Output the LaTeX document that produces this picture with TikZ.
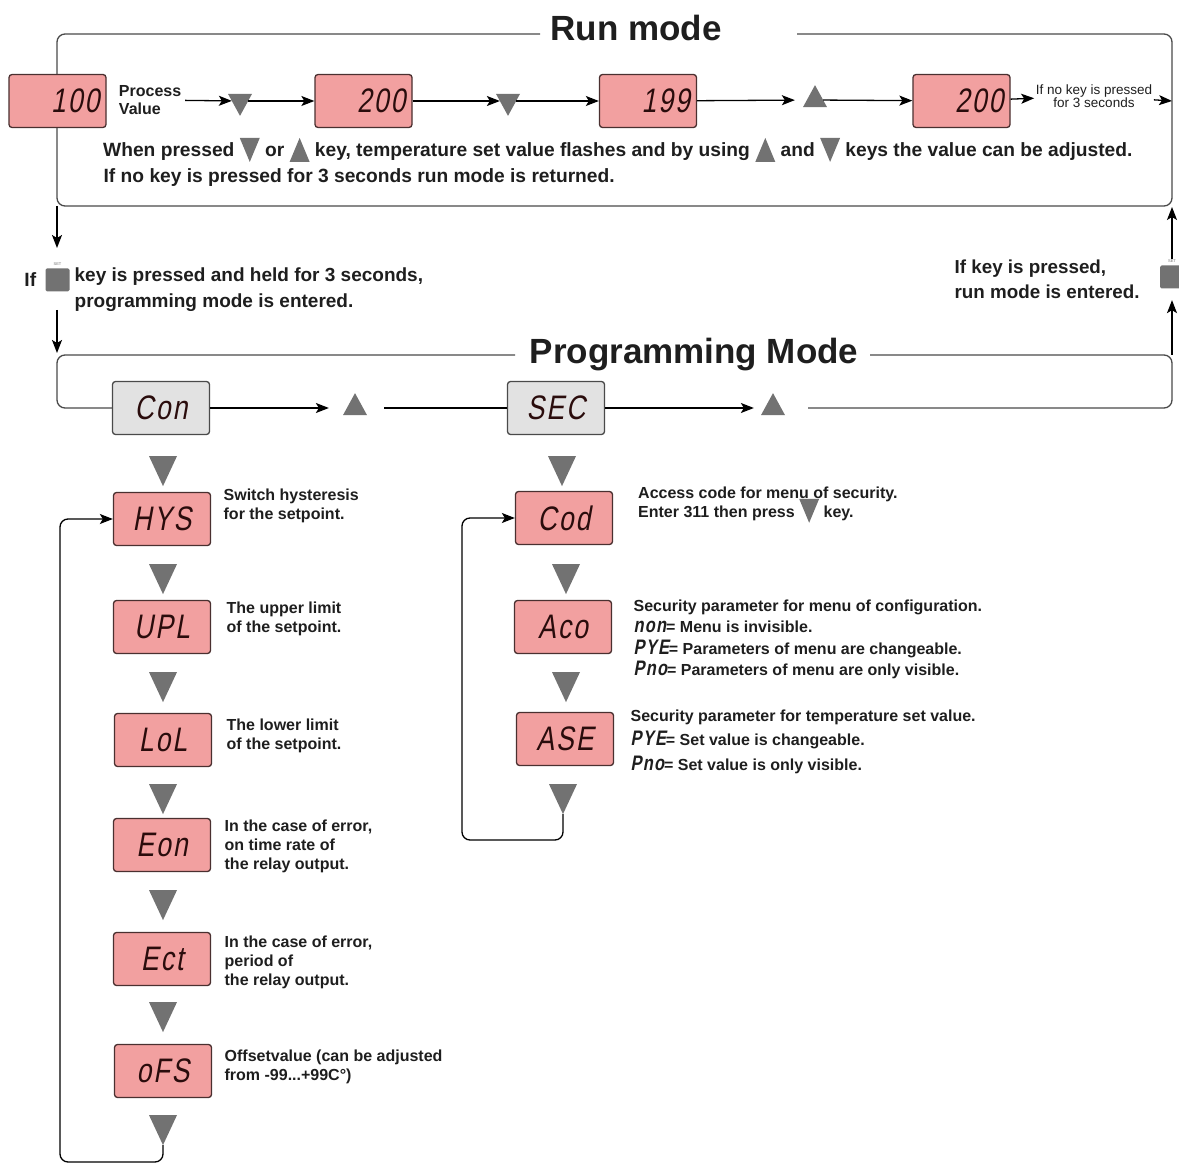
\documentclass[tikz,border=0pt]{standalone}
\usepackage{fontspec}
\setmainfont{Liberation Sans}
\newfontfamily\lcdfont[FakeStretch=0.78,FakeSlant=0.18,LetterSpace=6]{Liberation Sans}
\usetikzlibrary{positioning, shapes.geometric, arrows.meta}

\definecolor{lcdpink}{HTML}{F2A0A0}
\definecolor{lcdgray}{HTML}{E2E2E2}
\definecolor{keygray}{HTML}{727272}
\definecolor{lcdink}{HTML}{2A0C0C}
\definecolor{framegray}{HTML}{4A4A4A}
\definecolor{textblack}{HTML}{1E1E1E}

% Tasten im Fliesstext
\newcommand{\keydn}{\smash{\tikz[baseline=0pt]\fill[keygray] (-10pt,19pt) -- (10pt,19pt) -- (0pt,-5pt) -- cycle;}}
\newcommand{\keyup}{\smash{\tikz[baseline=0pt]\fill[keygray] (-10pt,-5pt) -- (10pt,-5pt) -- (0pt,19pt) -- cycle;}}
\newcommand{\lcd}[1]{{\lcdfont\fontsize{21}{16}\selectfont #1}}

\begin{document}
\begin{tikzpicture}[x=1pt, y=-1pt, line width=1.3pt, >={Stealth[length=13pt,width=10pt,inset=3pt]},
    font=\fontsize{16}{19}\bfseries\selectfont, text=textblack,
    display/.style={draw=lcdink!85, fill=lcdpink, rounded corners=3pt, minimum width=97pt,
        minimum height=53pt, inner sep=0pt, font=\lcdfont\fontsize{34}{34}\selectfont, text=lcdink},
    rundisp/.style={display, text width=84pt, align=right},
    menudisp/.style={display, fill=lcdgray, draw=framegray},
    downkey/.style={fill=keygray, isosceles triangle, isosceles triangle stretches, rotate=-90,
        minimum width=28pt, minimum height=30pt, inner sep=0pt, outer sep=0pt},
    smalldown/.style={downkey, minimum width=24pt, minimum height=22pt},
    smallup/.style={fill=keygray, isosceles triangle, isosceles triangle stretches, rotate=90,
        minimum width=24pt, minimum height=22pt, inner sep=0pt, outer sep=0pt},
    upkey/.style={smallup},
    setkey/.style={fill=keygray, rounded corners=1.5pt, minimum width=24pt, minimum height=23pt, inner sep=0pt},
    setlabel/.style={font=\fontsize{4}{4}\selectfont, inner sep=0.5pt, text=keygray},
    frame/.style={draw=framegray, rounded corners=8pt},
    title/.style={font=\fontsize{35}{35}\bfseries\selectfont, anchor=base},
    desc/.style={anchor=north west, align=left, inner sep=0pt},
    note/.style={font=\fontsize{19.2}{26}\bfseries\selectfont, align=left, inner sep=0pt}]
    \useasboundingbox (0,0) rectangle (1179,1166);

    % Run mode
    \node[title] (runtitle) at (636,41) {Run mode};
    \draw[frame] (540,34) -| (57,206) -| (1172,34) -- (797,34);

    \node[rundisp] (pv) at (57.5,101) {100};
    \node[anchor=west, align=left, font=\fontsize{16}{18}\bfseries\selectfont] (pvlabel) at (115,100) {Process\\Value};
    \node[smalldown] (rk1) at (240,101) {};
    \node[rundisp] (sv1) at (363.5,101) {200};
    \node[smalldown] (rk2) at (508,101) {};
    \node[rundisp] (sv2) at (648,101) {199};
    \node[smallup] (rk3) at (815,100) {};
    \node[rundisp] (sv3) at (961.5,101) {200};
    \node[align=center, inner sep=1pt, font=\fontsize{13.5}{12}\selectfont] (nokey) at (1094,96) {If no key is pressed\\for 3 seconds};
    \coordinate (runexit) at (1172,101);

    \draw[->] (pvlabel) -- (rk1);
    \draw[->] (rk1) -- (sv1);
    \draw[->] (sv1) -- (rk2);
    \draw[->] (rk2) -- (sv2);
    \draw[->, shorten >=12pt] (sv2) -- (rk3);
    \draw[->] (rk3) -- (sv3);
    \draw[->] (sv3) -- (nokey);
    \draw[->] (nokey) -- (runexit);

    \node[note, anchor=west] (runnote1) at (103,152) {When pressed \keydn{} or \keyup{} key, temperature set value flashes and by using \keyup{} and \keydn{} keys the value can be adjusted.};
    \node[note, anchor=west] (runnote2) at (103,178) {If no key is pressed for 3 seconds run mode is returned.};

    % Wechsel in den Programmiermodus
    \coordinate (runbl) at (57,206);
    \coordinate (runhold) at (57,248);
    \draw[->] (runbl) -- (runhold);
    \node[setkey] (setkey1) at (57.5,280) {};
    \node[setlabel, above=1pt of setkey1] (setlab1) {SET};
    \node[note, left=8pt of setkey1] (iflab) {If};
    \node[note, font=\fontsize{19}{26}\bfseries\selectfont, anchor=north west] (progin) at (74,267) {key is pressed and held for 3 seconds,\\programming mode is entered.};
    \coordinate (progdrop) at (57,310);
    \coordinate (progtl) at (57,353);
    \draw[->] (progdrop) -- (progtl);

    % Rueckkehr in den Run mode
    \node[setkey] (setkey2) at (1172,277) {};
    \node[setlabel, above=1pt of setkey2] (setlab2) {SET};
    \coordinate (progtr) at (1172,355);
    \coordinate (runbr) at (1172,207);
    \draw[->, shorten >=11pt] (progtr) -- (setkey2);
    \draw[->] (setlab2) -- (runbr);
    \node[note, font=\fontsize{18.8}{25}\bfseries\selectfont, anchor=north west] (progout) at (954,259) {If key is pressed,\\run mode is entered.};

    % Programming Mode
    \node[title] (progtitle) at (694,364) {Programming Mode};
    \node[menudisp] (con) at (161,408) {Con};
    \node[upkey] (pk1) at (355,408) {};
    \node[menudisp] (sec) at (556,408) {SEC};
    \node[upkey] (pk2) at (773,408) {};
    \coordinate (progbr) at (808,408);
    \draw[frame] (515,355) -| (57,408) -- (con);
    \draw[frame] (870,355) -| (1172,408) -- (progbr);
    \draw[->, shorten >=18pt] (con) -- (pk1);
    \draw[shorten <=21pt] (pk1) -- (sec);
    \draw[->, shorten >=11pt] (sec) -- (pk2);

    % Menue Con
    \node[downkey] (ck0) at (163,465) {};
    \node[display] (hys) at (162,519) {HYS};
    \node[downkey] (ck1) at (163,573) {};
    \node[display] (upl) at (162,627) {UPL};
    \node[downkey] (ck2) at (163,681) {};
    \node[display] (lol) at (163,740) {LoL};
    \node[downkey] (ck3) at (163,793) {};
    \node[display] (eon) at (162,845) {Eon};
    \node[downkey] (ck4) at (163,899) {};
    \node[display] (ect) at (162,959) {Ect};
    \node[downkey] (ck5) at (163,1011) {};
    \node[display] (ofs) at (163,1071) {oFS};
    \node[downkey] (ck6) at (163,1124) {};
    \draw[->, rounded corners=8pt] (ck6.apex) |- (60,1162) |- (hys.west);

    \node[desc] (hysdesc) at (223,488) {Switch hysteresis\\for the setpoint.};
    \node[desc] (upldesc) at (226,601) {The upper limit\\of the setpoint.};
    \node[desc] (loldesc) at (226,718) {The lower limit\\of the setpoint.};
    \node[desc] (eondesc) at (224,819) {In the case of error,\\on time rate of\\the relay output.};
    \node[desc] (ectdesc) at (224,935) {In the case of error,\\period of\\the relay output.};
    \node[desc] (ofsdesc) at (224,1049) {Offsetvalue (can be adjusted\\from -99...+99C°)};

    % Menue SEC
    \node[downkey] (sk0) at (562,465) {};
    \node[display] (cod) at (564,518) {Cod};
    \node[downkey] (sk1) at (566,573) {};
    \node[display] (aco) at (563,627) {Aco};
    \node[downkey] (sk2) at (566,681) {};
    \node[display] (ase) at (565,739) {ASE};
    \node[downkey] (sk3) at (563,793) {};
    \draw[->, rounded corners=8pt] (sk3.apex) |- (462,840) |- (cod.west);

    \node[desc] (coddesc) at (638,487) {Access code for menu of security.\\Enter 311 then press \keydn{} key.};
    \node[desc, font=\fontsize{16}{21.5}\bfseries\selectfont] (acodesc) at (633,599) {Security parameter for menu of configuration.\\\lcd{non}= Menu is invisible.\\\lcd{PYE}= Parameters of menu are changeable.\\\lcd{Pno}= Parameters of menu are only visible.};
    \node[desc, font=\fontsize{16}{24.5}\bfseries\selectfont] (asedesc) at (630,709) {Security parameter for temperature set value.\\\lcd{PYE}= Set value is changeable.\\\lcd{Pno}= Set value is only visible.};
\end{tikzpicture}
\end{document}
